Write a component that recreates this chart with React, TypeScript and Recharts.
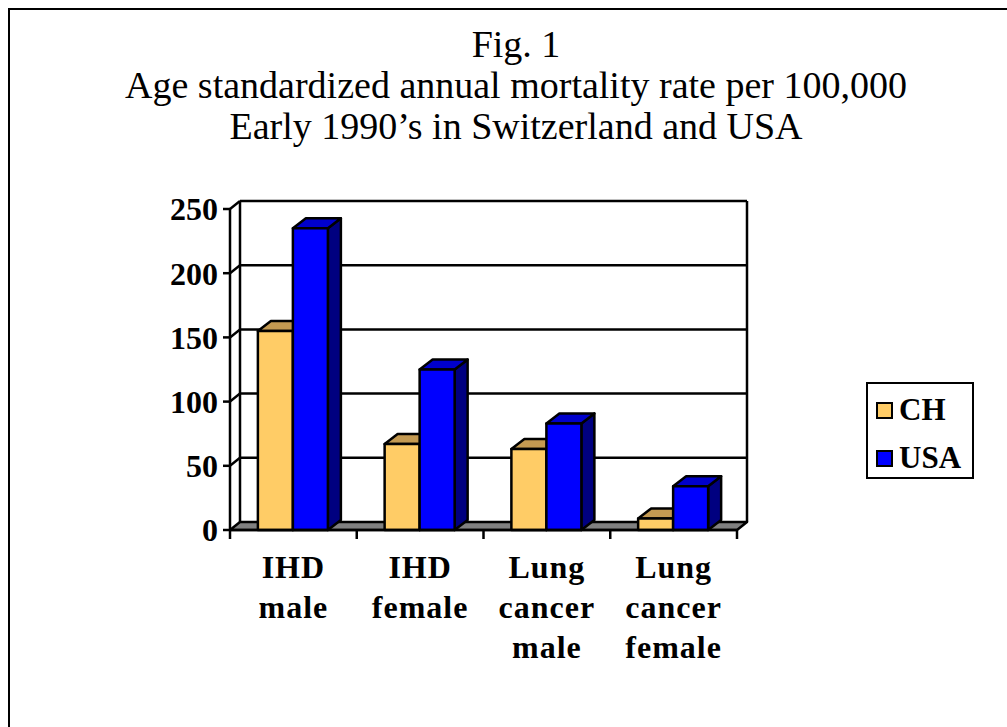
import React from "react";
import { BarChart, Bar, XAxis, YAxis, CartesianGrid, Legend } from "recharts";

const categories = ["IHD male", "IHD female", "Lung cancer male", "Lung cancer female"];
const chValues = [155, 67, 63, 9];
const usaValues = [235, 125, 83, 34];
const yTicks = [0, 50, 100, 150, 200, 250];

const titleLines = [
  "Fig. 1",
  "Age standardized annual mortality rate per 100,000",
  "Early 1990\u2019s in Switzerland and USA",
];

const data = categories.map((cat, i) => ({ cat, CH: chValues[i], USA: usaValues[i] }));

const SERIF = '"Liberation Serif", "Times New Roman", serif';
const LINE = 2.5;
// depth of the walls and of the bars (pseudo 3D)
const WALL_DX = 10;
const WALL_DY = -8;
const BAR_DX = 13;
const BAR_DY = -10;

const colors: Record<string, { front: string; top: string; side: string }> = {
  CH: { front: "#FFCC66", top: "#C49A52", side: "#9C7630" },
  USA: { front: "#0000FF", top: "#0000CC", side: "#000080" },
};

function makeBarShape(name: string) {
  return (props: any) => {
    const { x, y, width, height } = props;
    const c = colors[name];
    if (height == null || width == null) return <g />;
    return (
      <g stroke="#000" strokeWidth={LINE} strokeLinejoin="round">
        <polygon
          points={`${x + width},${y} ${x + width + BAR_DX},${y + BAR_DY} ${x + width + BAR_DX},${y + height + BAR_DY} ${x + width},${y + height}`}
          fill={c.side}
        />
        <polygon
          points={`${x},${y} ${x + BAR_DX},${y + BAR_DY} ${x + width + BAR_DX},${y + BAR_DY} ${x + width},${y}`}
          fill={c.top}
        />
        <rect x={x} y={y} width={width} height={height} fill={c.front} />
      </g>
    );
  };
}

// back wall, side wall and floor drawn from the grid line positions
function gridLine(props: any) {
  const { x1, x2, y1, index } = props;
  const top = props.y;
  const bottom = props.y + props.height;
  const isFloor = Math.abs(y1 - bottom) < 0.5;
  const isTop = Math.abs(y1 - top) < 0.5;
  return (
    <g key={`grid-${index}`} stroke="#000" strokeWidth={LINE}>
      {isFloor ? (
        <polygon
          points={`${x1},${y1} ${x1 + WALL_DX},${y1 + WALL_DY} ${x2 + WALL_DX},${y1 + WALL_DY} ${x2},${y1}`}
          fill="#808080"
          strokeLinejoin="round"
        />
      ) : (
        <>
          <line x1={x1 + WALL_DX} y1={y1 + WALL_DY} x2={x2 + WALL_DX} y2={y1 + WALL_DY} />
          <line x1={x1} y1={y1} x2={x1 + WALL_DX} y2={y1 + WALL_DY} />
        </>
      )}
      {isTop && (
        <>
          <line x1={x1 + WALL_DX} y1={top + WALL_DY} x2={x1 + WALL_DX} y2={bottom + WALL_DY} />
          <line x1={x2 + WALL_DX} y1={top + WALL_DY} x2={x2 + WALL_DX} y2={bottom + WALL_DY} />
        </>
      )}
    </g>
  );
}

function CategoryTick(props: any) {
  const { x, y, payload, index, visibleTicksCount } = props;
  const half = payload?.offset ?? 63.4;
  const words = String(payload.value).split(" ");
  const last = visibleTicksCount ? index === visibleTicksCount - 1 : index === categories.length - 1;
  return (
    <g>
      <line x1={x - half} y1={y} x2={x - half} y2={y + 9} stroke="#000" strokeWidth={LINE} />
      {last && <line x1={x + half} y1={y} x2={x + half} y2={y + 9} stroke="#000" strokeWidth={LINE} />}
      {words.map((w, i) => (
        <text
          key={i}
          x={x}
          y={y + 48 + i * 40}
          textAnchor="middle"
          fontFamily={SERIF}
          fontWeight="bold"
          fontSize={32}
          letterSpacing={1}
          fill="#000"
        >
          {w}
        </text>
      ))}
    </g>
  );
}

function LegendBox() {
  const items = [
    { name: "CH", color: colors.CH.front },
    { name: "USA", color: colors.USA.front },
  ];
  return (
    <div
      style={{
        width: 104,
        height: 93,
        border: "2.5px solid #000",
        background: "#fff",
        boxSizing: "content-box",
      }}
    >
      {items.map((it, i) => (
        <div
          key={it.name}
          style={{
            position: "absolute",
            left: 10,
            top: 11 + i * 48,
            display: "flex",
            alignItems: "center",
            fontFamily: SERIF,
            fontWeight: "bold",
            fontSize: 31,
            lineHeight: "34px",
          }}
        >
          <span
            style={{
              display: "inline-block",
              width: 13,
              height: 13,
              background: it.color,
              border: "2px solid #000",
              marginRight: 6,
            }}
          />
          {it.name}
        </div>
      ))}
    </div>
  );
}

export default function App() {
  return (
    <div style={{ position: "absolute", left: 0, top: 0, width: 1007, height: 727, background: "#fff", overflow: "hidden" }}>
      {/* frame */}
      <div
        style={{
          position: "absolute",
          left: 8,
          top: 8,
          width: 1010,
          height: 730,
          borderLeft: "2.5px solid #000",
          borderTop: "2.5px solid #000",
        }}
      />
      {/* title */}
      <div
        style={{
          position: "absolute",
          left: 16,
          top: 24,
          width: 1000,
          textAlign: "center",
          fontFamily: SERIF,
          fontSize: 38,
          lineHeight: "41px",
          color: "#000",
        }}
      >
        {titleLines.map((t) => (
          <div key={t}>{t}</div>
        ))}
      </div>
      <div style={{ position: "absolute", left: 0, top: 0 }}>
        <BarChart
          width={1007}
          height={727}
          data={data}
          margin={{ top: 209, right: 270, bottom: 77, left: 0 }}
          barCategoryGap="22%"
          barGap={0}
        >
          <CartesianGrid horizontal={gridLine} vertical={false} />
          <XAxis
            dataKey="cat"
            height={120}
            axisLine={{ stroke: "#000", strokeWidth: LINE }}
            tickLine={false}
            tickSize={0}
            tickMargin={0}
            interval={0}
            tick={<CategoryTick />}
          />
          <YAxis
            width={230}
            domain={[0, 250]}
            ticks={yTicks}
            interval={0}
            axisLine={{ stroke: "#000", strokeWidth: LINE }}
            tickLine={{ stroke: "#000", strokeWidth: LINE }}
            tickSize={7}
            tickMargin={5}
            tick={{ fill: "#000", fontFamily: SERIF, fontWeight: "bold", fontSize: 32 }}
          />
          <Legend
            verticalAlign="middle"
            align="center"
            content={<LegendBox />}
            wrapperStyle={{ left: 866, top: 382, width: 109, height: 98 }}
          />
          <Bar dataKey="CH" isAnimationActive={false} shape={makeBarShape("CH")} />
          <Bar dataKey="USA" isAnimationActive={false} shape={makeBarShape("USA")} />
        </BarChart>
      </div>
    </div>
  );
}
